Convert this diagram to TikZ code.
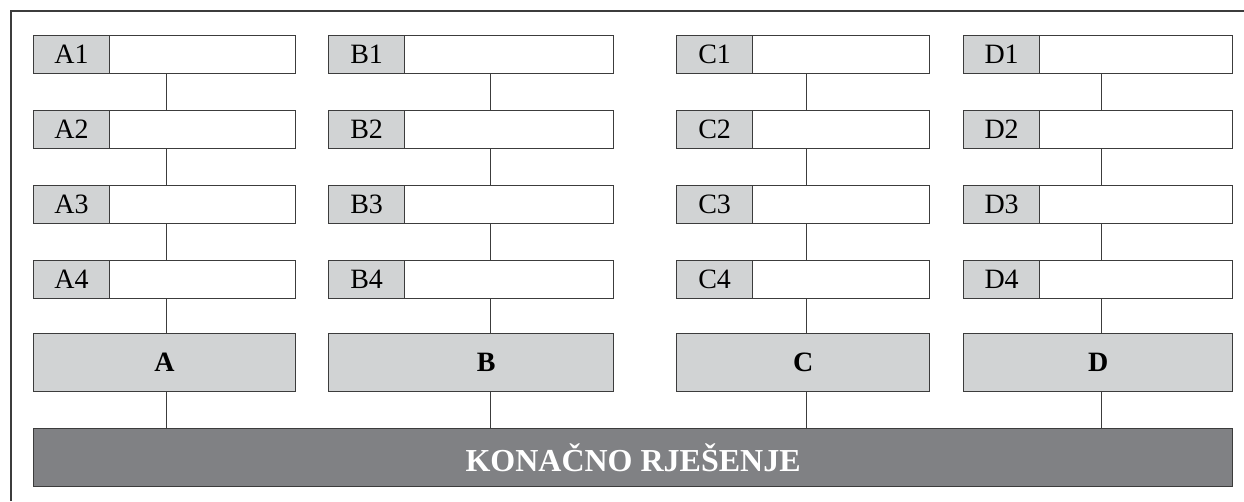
\documentclass[tikz,border=0pt]{standalone}
\usepackage{fontspec}
\setmainfont{Liberation Serif}
\definecolor{lgray}{HTML}{D1D3D4}
\definecolor{dgray}{HTML}{808184}
\definecolor{edge}{HTML}{3C3C3C}
\tikzset{
  box/.style={draw=edge, line width=1.2pt, rectangle, inner sep=0pt, anchor=north west},
  lab/.style={box, fill=lgray, minimum height=38pt, font=\fontsize{28}{28}\selectfont},
  fld/.style={box, fill=white, minimum height=38pt},
  mainbox/.style={box, fill=lgray, minimum height=58pt, font=\fontsize{28}{28}\selectfont\bfseries},
  finalbox/.style={box, fill=dgray, minimum height=58pt, text=white, font=\fontsize{32}{32}\selectfont\bfseries},
  conn/.style={draw=edge, line width=1.2pt},
  frameline/.style={draw=edge, line width=1.2pt}
}
\begin{document}
\begin{tikzpicture}[x=1pt,y=-1pt]
\useasboundingbox (0,0) rectangle (1244,501);
\draw[frameline] (11,501) -- (11,11) -- (1244,11);
\foreach \n/\l/\m/\r/\c/\t in {A/33/109/295/166.7/0, B/328/404/613/490.7/30, C/676/752/929/806.7/0, D/963/1039/1232/1101.7/0}{
  \pgfmathsetmacro\wl{\m-\l}
  \pgfmathsetmacro\wf{\r-\m}
  \pgfmathsetmacro\wm{\r-\l}
  \coordinate (x\n) at (\c,0);
  \foreach \i/\y in {1/35,2/110,3/185,4/260}{
    \node[lab, minimum width=\wl pt] (\n\i) at (\l,\y) {\n\i};
    \node[fld, minimum width=\wf pt] (f\n\i) at (\m,\y) {};
  }
  \node[mainbox, minimum width=\wm pt] (\n) at (\l,333) {\hspace*{\t pt}\n};
}
\node[finalbox, minimum width=1199pt] (final) at (33,428) {KONAČNO RJEŠENJE};
\foreach \n in {A,B,C,D}{
  \draw[conn] (f\n1.south -| x\n) -- (f\n2.north -| x\n);
  \draw[conn] (f\n2.south -| x\n) -- (f\n3.north -| x\n);
  \draw[conn] (f\n3.south -| x\n) -- (f\n4.north -| x\n);
  \draw[conn] (f\n4.south -| x\n) -- (\n.north -| x\n);
  \draw[conn] (\n.south -| x\n) -- (final.north -| x\n);
}
\end{tikzpicture}
\end{document}
